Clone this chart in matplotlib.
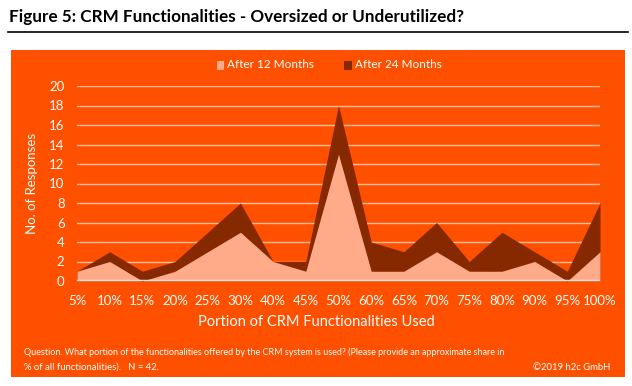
import matplotlib
matplotlib.use("Agg")
import matplotlib.pyplot as plt
from matplotlib.patches import Rectangle
from matplotlib.lines import Line2D

plt.rcParams['font.family'] = ['Lato', 'DejaVu Sans']

categories = ["5%", "10%", "15%", "20%", "25%", "30%", "40%", "45%", "50%",
              "60%", "65%", "70%", "75%", "80%", "90%", "95%", "100%"]
after_12 = [1, 2, 0, 1, 3, 5, 2, 1, 13, 1, 1, 3, 1, 1, 2, 0, 3]
after_24 = [1, 3, 1, 2, 5, 8, 2, 2, 18, 4, 3, 6, 2, 5, 3, 1, 8]
yticks = list(range(0, 21, 2))

orange = "#FF5000"
light = "#FFAB8A"
dark = "#862800"
white = "#FFFFFF"

W, H = 632, 386
fig = plt.figure(figsize=(W / 100, H / 100), dpi=100)
fig.patch.set_facecolor("white")

# orange panel
bg = Rectangle((11 / W, 1 - 377 / H), (625 - 11) / W, (377 - 50) / H,
               transform=fig.transFigure, facecolor=orange, edgecolor="none", zorder=-5)
fig.patches.append(bg)
# title + rule
fig.text(9 / W, 1 - 17 / H, "Figure 5: CRM Functionalities - Oversized or Underutilized?",
         fontsize=12.3, fontweight="bold", color="black", va="center", ha="left")
fig.lines.append(Line2D([8 / W, 628 / W], [1 - 32 / H, 1 - 32 / H],
                        transform=fig.transFigure, color="black", lw=1.2))

ax = fig.add_axes([77 / W, 1 - 281 / H, (600 - 77) / W, (281 - 86) / H])
ax.set_zorder(5)
ax.patch.set_alpha(0)
x = list(range(len(categories)))

for y in yticks[1:]:
    ax.axhline(y, color="#FFBDA0", lw=1, zorder=1)
ax.fill_between(x, 0, after_24, color=dark, lw=0, zorder=2)
ax.fill_between(x, 0, after_12, color=light, lw=0, zorder=3)
ax.axhline(0, color="#DDDDDD", lw=2.5, zorder=4)

ax.set_xlim(0, len(categories) - 1)
ax.set_ylim(0, 20)
ax.set_xticks(x)
ax.set_xticklabels(categories)
ax.set_yticks(yticks)
ax.tick_params(length=0, colors=white, labelsize=9.5)
ax.tick_params(axis="x", pad=10)
ax.tick_params(axis="y", pad=9)
for s in ax.spines.values():
    s.set_visible(False)

ax.set_ylabel("No. of Responses", color=white, fontsize=9.5, labelpad=8)
fig.text(316 / W, 1 - 322 / H, "Portion of CRM Functionalities Used",
         color=white, fontsize=10.5, ha="center", va="center", zorder=6)

# legend
fig.patches.append(Rectangle((217 / W, 1 - 70 / H), 7 / W, 9 / H,
                             transform=fig.transFigure, facecolor=light, edgecolor="none"))
fig.text(227 / W, 1 - 65 / H, "After 12 Months", color=white, fontsize=8.5, va="center")
fig.patches.append(Rectangle((344 / W, 1 - 70 / H), 8 / W, 9 / H,
                             transform=fig.transFigure, facecolor=dark, edgecolor="none"))
fig.text(355 / W, 1 - 65 / H, "After 24 Months", color=white, fontsize=8.5, va="center")

# footnote
fig.text(24 / W, 1 - 352 / H,
         "Question. What portion of the functionalities offered by the CRM system is used? "
         "(Please provide an approximate share in",
         color=white, fontsize=6.5, va="center")
fig.text(24 / W, 1 - 367 / H, "% of all functionalities).   N = 42.",
         color=white, fontsize=6.8, va="center")
fig.text(610 / W, 1 - 367 / H, "\u00a92019 h2c GmbH", color=white, fontsize=6.8,
         va="center", ha="right")

fig.savefig("out.png", dpi=100)
